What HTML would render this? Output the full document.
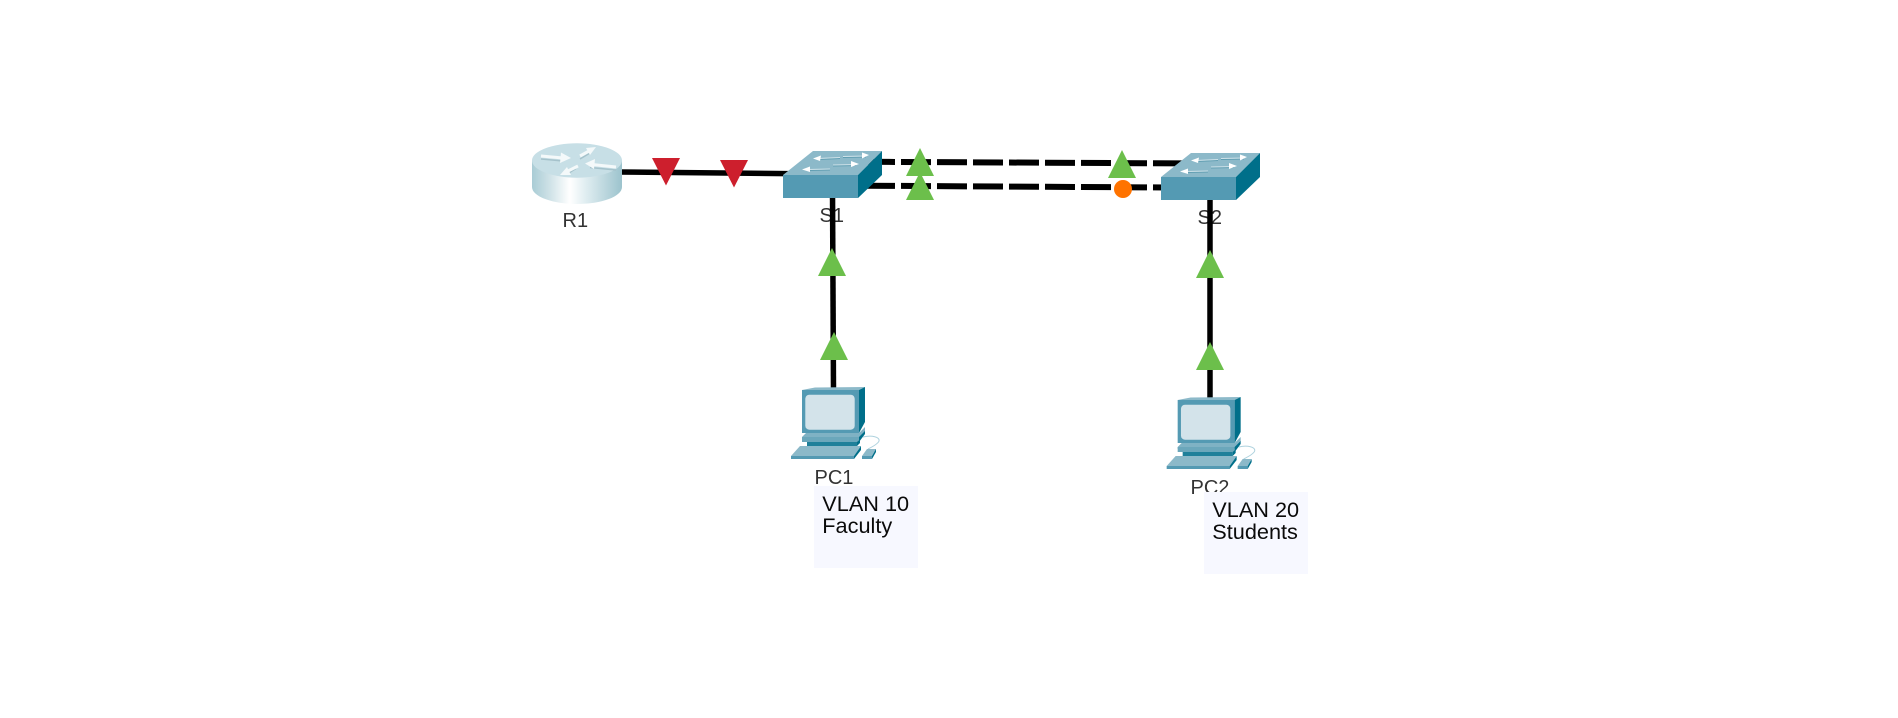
<!DOCTYPE html>
<html>
<head>
<meta charset="utf-8">
<style>
html,body{margin:0;padding:0;background:#fff;width:1898px;height:718px;overflow:hidden}
svg{display:block;position:absolute;left:0;top:0}
.l{font-family:"Liberation Sans",Arial,sans-serif;font-size:20px;fill:#333}
.n{font-family:"Liberation Sans",Arial,sans-serif;font-size:21.7px;fill:#0a0a0a}
</style>
</head>
<body>
<svg width="1898" height="718" viewBox="0 0 1898 718" xmlns="http://www.w3.org/2000/svg">
<defs>
<linearGradient id="rg" x1="0" x2="1" y1="0" y2="0">
<stop offset="0" stop-color="#a9ccd5"/>
<stop offset="0.2" stop-color="#cfe2e7"/>
<stop offset="0.42" stop-color="#ffffff"/>
<stop offset="0.62" stop-color="#dcebef"/>
<stop offset="1" stop-color="#9cc3cd"/>
</linearGradient>
<g id="sw">
<polygon points="813,151 882,151 858,175 783,175" fill="#8cb9c9"/>
<rect x="783" y="175" width="75" height="23" fill="#549ab3"/>
<polygon points="858,175 882,151 882,175 858,198" fill="#006f8a"/>
<g fill="none" stroke="#5f9db1" stroke-width="1">
<line x1="818" y1="159.5" x2="840" y2="158.500"/>
<line x1="843" y1="157.500" x2="866" y2="157"/>
<line x1="808" y1="170.500" x2="830" y2="170"/>
<line x1="833" y1="166" x2="856" y2="165.500"/>
</g>
<g fill="none" stroke="#cfe2e9" stroke-width="1">
<line x1="818" y1="158.500" x2="840" y2="157.500"/>
<line x1="843" y1="156.500" x2="866" y2="156"/>
<line x1="808" y1="169.500" x2="830" y2="169"/>
<line x1="833" y1="165" x2="856" y2="164.500"/>
</g>
<g fill="#fff">
<polygon points="813,158.500 821,155.500 820,161"/>
<polygon points="869,155 862,152.500 862,158.500"/>
<polygon points="802,169.500 810,166.500 810,172"/>
<polygon points="859,164 851,161 851,167"/>
</g>
</g>
<g id="pc">
<path d="M863,437 C872,435 880,437 879,441 C878,444 872,447 868,449" fill="none" stroke="#aed2de" stroke-width="1"/>
<polygon points="802,390 815,387.500 865,387 859,390" fill="#8cb9c9"/>
<rect x="802" y="390" width="57" height="43" fill="#549ab3"/>
<polygon points="859,390 865,387 865,422 859,433" fill="#006f8a"/>
<rect x="805.300" y="394.700" width="49.400" height="35" rx="4" fill="#d3e3ea"/>
<polygon points="806,433 859,433 865,427 865,432 859,439 802,439 802,437" fill="#7fb2c4"/>
<rect x="802" y="437" width="57" height="5" fill="#6ba7bb"/>
<polygon points="859,437 865,431 865,434 859,442" fill="#006f8a"/>
<rect x="807" y="442" width="50" height="4" fill="#1f809a"/>
<polygon points="857,442 860,439.500 860,443 857,446" fill="#006f8a"/>
<polygon points="791,456 800,446 861,446 854,456" fill="#8cb9c9"/>
<rect x="791" y="456" width="63" height="3" fill="#549ab3"/>
<polygon points="854,456 861,446 861,450 854,459" fill="#006f8a"/>
<polygon points="862,456 867,449 876,449 872,456" fill="#8cb9c9"/>
<rect x="862" y="456" width="10" height="3" fill="#549ab3"/>
<polygon points="872,456 876,449 876,452 872,459" fill="#006f8a"/>
</g>
</defs>

<!-- labels sit below links -->
<text class="l" x="562.500" y="227">R1</text>
<text class="l" x="819.500" y="222">S1</text>
<text class="l" x="1197.500" y="224">S2</text>
<text class="l" x="814.500" y="484">PC1</text>
<text class="l" x="1190.500" y="494">PC2</text>

<!-- links -->
<g stroke="#000" fill="none">
<line x1="618" y1="172" x2="800" y2="173.700" stroke-width="5.500"/>
<line x1="832.500" y1="190" x2="833.500" y2="392" stroke-width="5.500"/>
<line x1="1210" y1="195" x2="1210" y2="400" stroke-width="5.500"/>
<line x1="829" y1="161.600" x2="1200" y2="163.500" stroke-width="6" stroke-dasharray="30 6"/>
<line x1="829" y1="185.500" x2="1200" y2="187.700" stroke-width="6" stroke-dasharray="30 6"/>
</g>

<!-- router -->
<path d="M532,160.500 V187 A45,17 0 0 0 622,187 V160.500 Z" fill="url(#rg)"/>
<ellipse cx="577" cy="160.500" rx="45" ry="17.200" fill="#c7dfe6"/>
<g fill="none" stroke="#a5c2cb" stroke-width="1.500">
<line x1="541" y1="159" x2="563" y2="161"/>
<line x1="580" y1="159" x2="590" y2="153"/>
<line x1="590" y1="167.500" x2="616" y2="170"/>
<line x1="576" y1="168.500" x2="568" y2="173.500"/>
</g>
<g fill="none" stroke="#f4f9fa" stroke-width="3">
<line x1="541" y1="156" x2="563" y2="158"/>
<line x1="580" y1="156" x2="590" y2="150.500"/>
<line x1="592" y1="164.500" x2="616" y2="167"/>
<line x1="578" y1="166" x2="568" y2="171"/>
</g>
<g fill="#f4f9fa">
<polygon points="571,158 561,152.500 560,163"/>
<polygon points="596,147 586,148 590,155"/>
<polygon points="585,163.500 595,159 594,169"/>
<polygon points="560,175 571,175 567,167"/>
</g>

<!-- switches -->
<use href="#sw"/>
<use href="#sw" transform="translate(378,2)"/>

<!-- PCs -->
<use href="#pc"/>
<use href="#pc" transform="translate(375.670,10)"/>

<!-- notes -->
<rect x="814" y="486" width="104" height="82" fill="#f7f8ff"/>
<text class="n" x="822.300" y="511">VLAN 10</text>
<text class="n" x="822.300" y="533">Faculty</text>
<rect x="1204" y="492" width="104" height="82" fill="#f7f8ff"/>
<text class="n" x="1212.300" y="517">VLAN 20</text>
<text class="n" x="1212.300" y="539">Students</text>

<!-- status markers -->
<g fill="#cd1f2d">
<polygon points="652,158 680,158 666,185.500"/>
<polygon points="720,160 748,160 734,187.500"/>
</g>
<g fill="#6cbf4b">
<polygon points="920,148 934,176 906,176"/>
<polygon points="920,172 934,200 906,200"/>
<polygon points="1122,150 1136,178 1108,178"/>
<polygon points="832,248 846,276 818,276"/>
<polygon points="834,332 848,360 820,360"/>
<polygon points="1210,250 1224,278 1196,278"/>
<polygon points="1210,342 1224,370 1196,370"/>
</g>
<circle cx="1123" cy="189" r="9" fill="#ff7300"/>
</svg>
</body>
</html>
